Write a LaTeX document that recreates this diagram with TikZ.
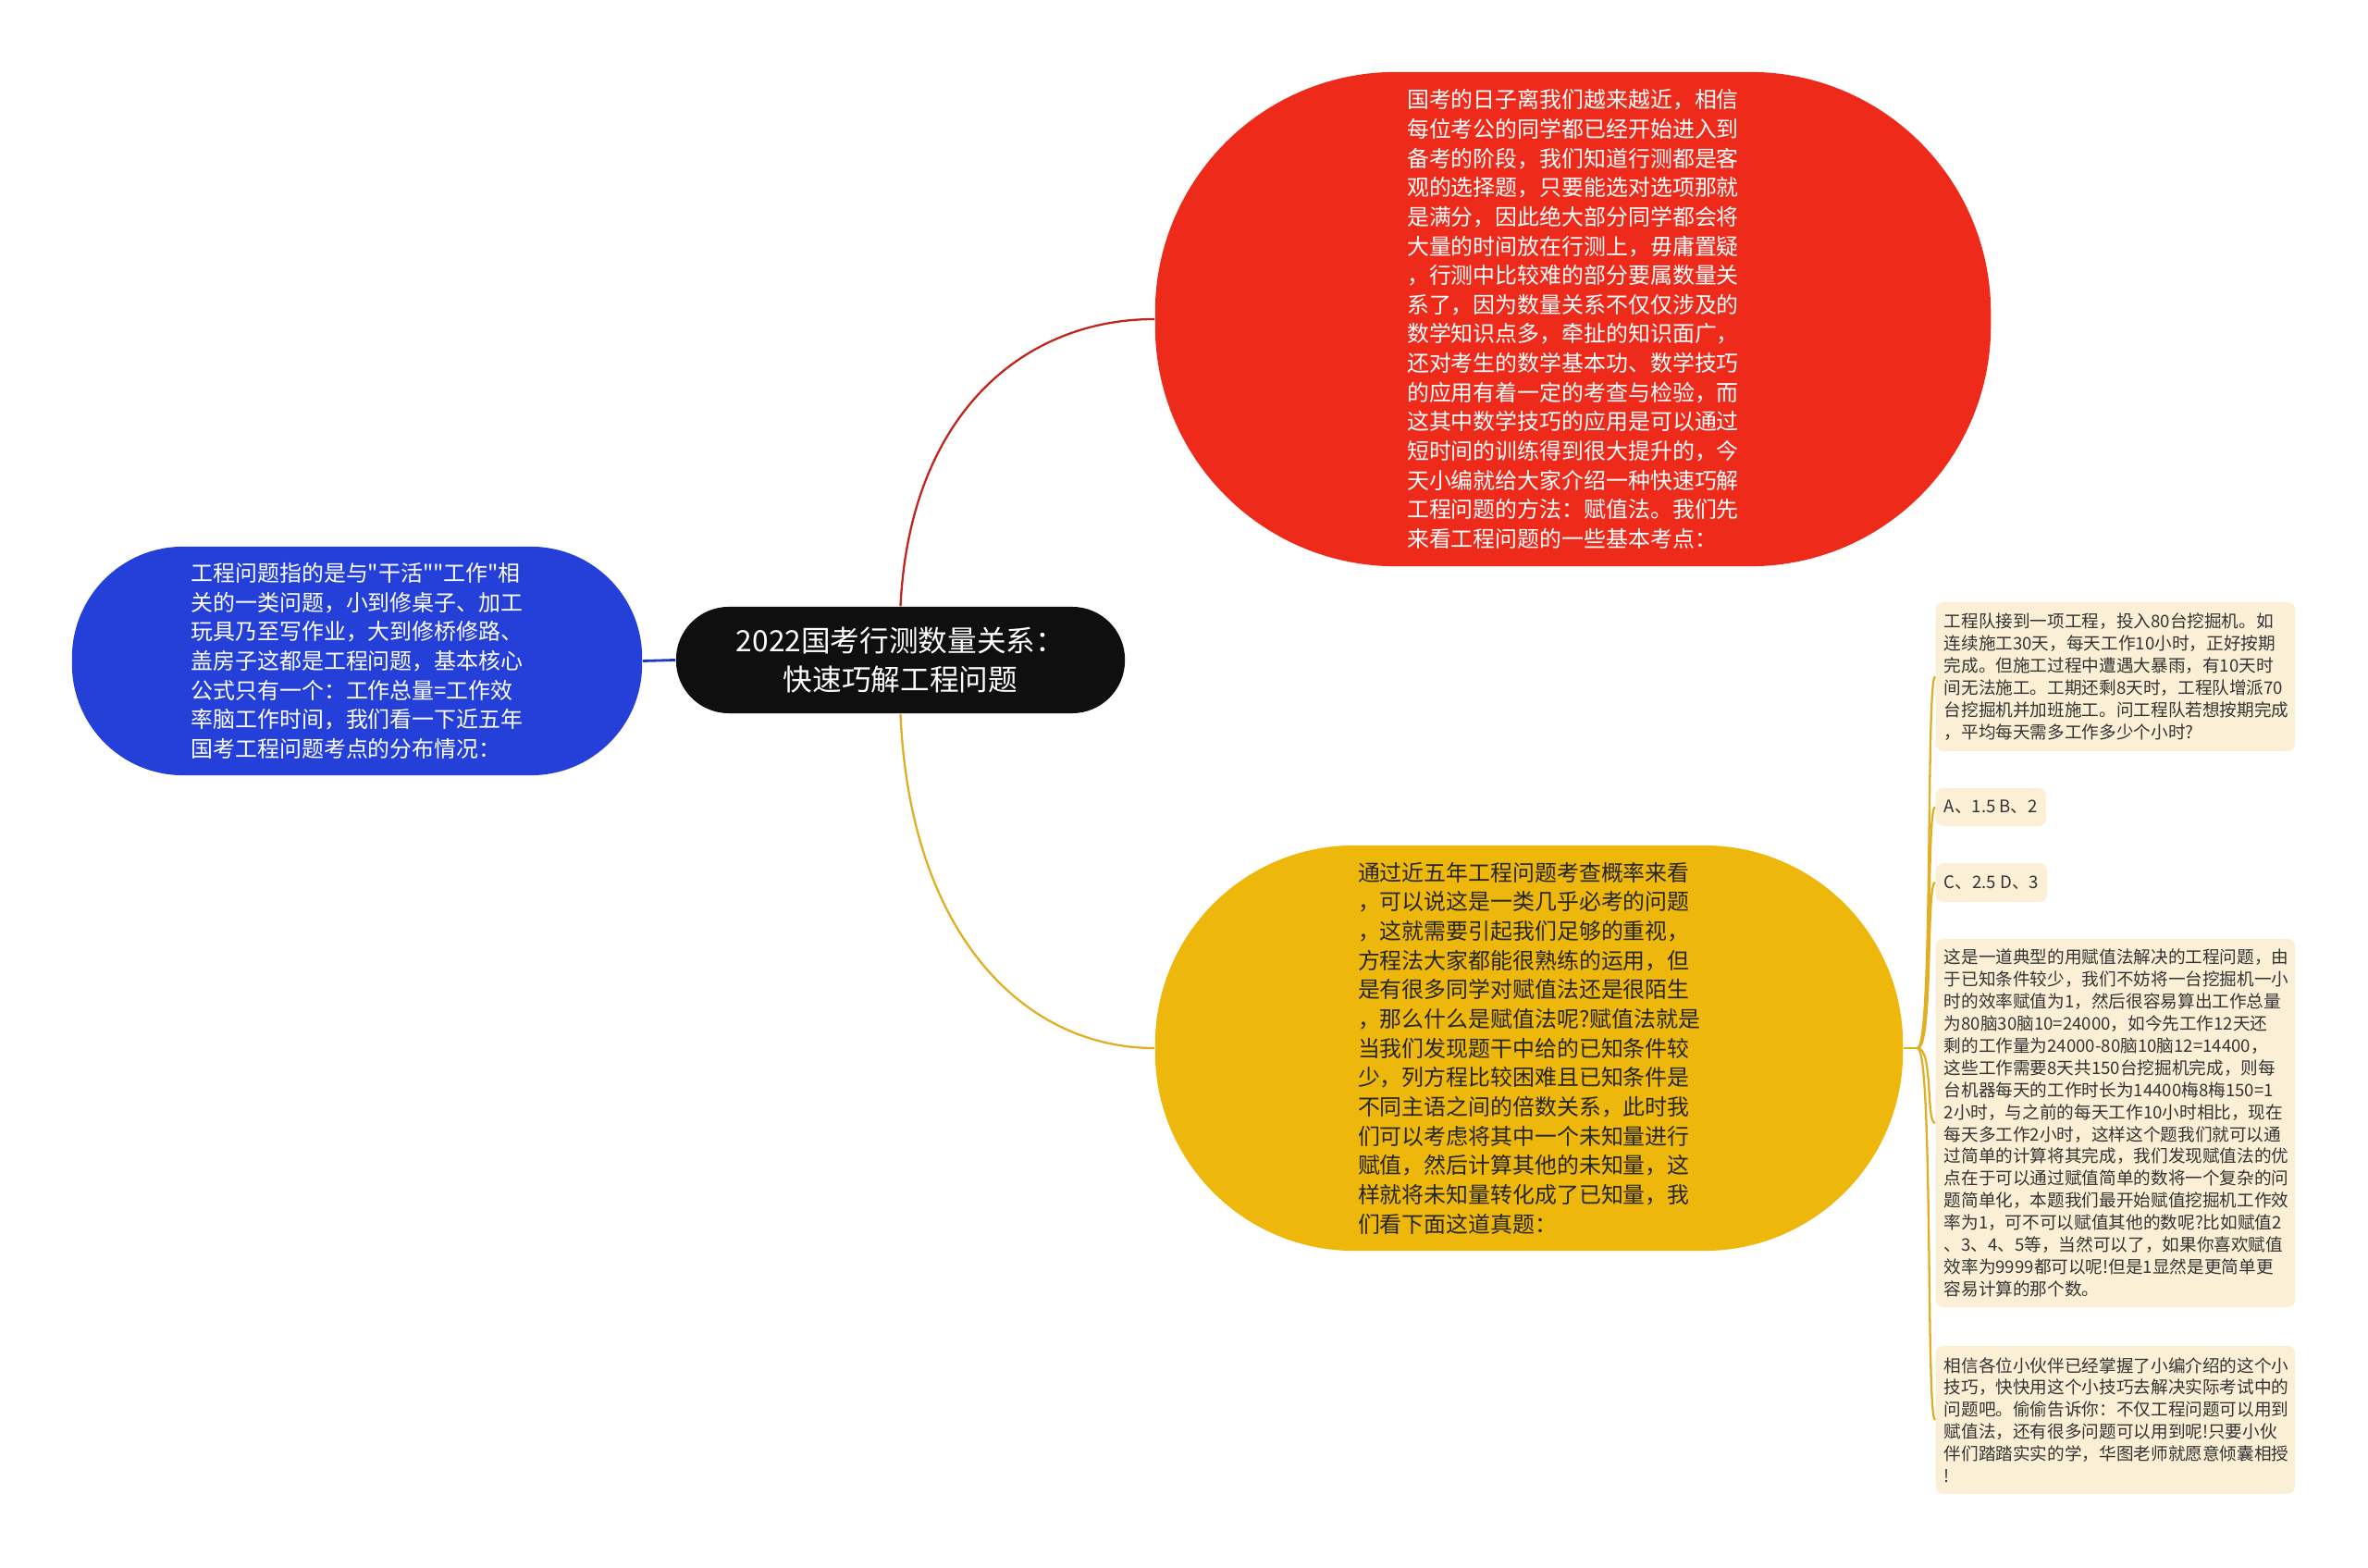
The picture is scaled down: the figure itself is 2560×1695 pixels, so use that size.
\documentclass[tikz,border=0pt]{standalone}
\usepackage{fontspec}
\setmainfont{Noto Sans CJK SC}[Ligatures=TeXReset]
\definecolor{redfill}{HTML}{EE2A1B}
\definecolor{redline}{HTML}{C0261C}
\definecolor{bluefill}{HTML}{2440D9}
\definecolor{blueline}{HTML}{2238C0}
\definecolor{yelfill}{HTML}{EDB80B}
\definecolor{yelline}{HTML}{E1AF24}
\definecolor{cream}{HTML}{FBF0D6}
\definecolor{rootfill}{HTML}{0F0F0F}
\definecolor{darktext}{HTML}{333333}
\begin{document}
\begin{tikzpicture}[x=0.01cm,y=-0.01cm,
  bubble/.style={rectangle, inner sep=0pt, align=left, font=\fontsize{6.8}{9}\selectfont},
  redbub/.style={bubble, fill=redfill, text=white, minimum width=9.03cm, minimum height=5.34cm, rounded corners=2.6cm},
  bluebub/.style={bubble, fill=bluefill, text=white, minimum width=6.16cm, minimum height=2.47cm, rounded corners=1.2cm},
  yelbub/.style={bubble, fill=yelfill, text=black!85, minimum width=8.08cm, minimum height=4.38cm, rounded corners=2.15cm},
  rootbub/.style={rectangle, inner sep=0pt, align=center, fill=rootfill, text=white, minimum width=4.85cm, minimum height=1.15cm, rounded corners=0.57cm, font=\fontsize{9}{11.95}\selectfont},
  leaf/.style={rectangle, fill=cream, text=darktext, rounded corners=0.08cm, inner xsep=0.09cm, inner ysep=0pt, align=left, anchor=west, font=\fontsize{5.3}{6.8}\selectfont},
  bigleaf/.style={leaf, text width=3.70cm},
  conn/.style={line width=0.65pt},
]
\fill[white] (0,0) rectangle (2560,1695);
\useasboundingbox (0,0) rectangle (2560,1695);

% nodes
\node[rootbub] (root) at (973.5,713.5) {2022国考行测数量关系：\\快速巧解工程问题};

\node[redbub] (red) at (1700.5,345) {国考的日子离我们越来越近，相信\\
每位考公的同学都已经开始进入到\\
备考的阶段，我们知道行测都是客\\
观的选择题，只要能选对选项那就\\
是满分，因此绝大部分同学都会将\\
大量的时间放在行测上，毋庸置疑\\
，行测中比较难的部分要属数量关\\
系了，因为数量关系不仅仅涉及的\\
数学知识点多，牵扯的知识面广，\\
还对考生的数学基本功、数学技巧\\
的应用有着一定的考查与检验，而\\
这其中数学技巧的应用是可以通过\\
短时间的训练得到很大提升的，今\\
天小编就给大家介绍一种快速巧解\\
工程问题的方法：赋值法。我们先\\
来看工程问题的一些基本考点：};

\node[bluebub] (blue) at (386,714.5) {工程问题指的是与"干活""工作"相\\
关的一类问题，小到修桌子、加工\\
玩具乃至写作业，大到修桥修路、\\
盖房子这都是工程问题，基本核心\\
公式只有一个：工作总量=工作效\\
率脑工作时间，我们看一下近五年\\
国考工程问题考点的分布情况：};

\node[yelbub] (yel) at (1653,1133) {通过近五年工程问题考查概率来看\\
，可以说这是一类几乎必考的问题\\
，这就需要引起我们足够的重视，\\
方程法大家都能很熟练的运用，但\\
是有很多同学对赋值法还是很陌生\\
，那么什么是赋值法呢?赋值法就是\\
当我们发现题干中给的已知条件较\\
少，列方程比较困难且已知条件是\\
不同主语之间的倍数关系，此时我\\
们可以考虑将其中一个未知量进行\\
赋值，然后计算其他的未知量，这\\
样就将未知量转化成了已知量，我\\
们看下面这道真题：};

\node[bigleaf, minimum height=1.61cm] (q) at (2092,731.5) {工程队接到一项工程，投入80台挖掘机。如\\
连续施工30天，每天工作10小时，正好按期\\
完成。但施工过程中遭遇大暴雨，有10天时\\
间无法施工。工期还剩8天时，工程队增派70\\
台挖掘机并加班施工。问工程队若想按期完成\\
，平均每天需多工作多少个小时?};

\node[leaf, minimum height=0.41cm] (ab) at (2092,872.5) {A、1.5 B、2};
\node[leaf, minimum height=0.42cm] (cd) at (2092,954) {C、2.5 D、3};

\node[bigleaf, minimum height=3.98cm] (sol) at (2092,1214) {这是一道典型的用赋值法解决的工程问题，由\\
于已知条件较少，我们不妨将一台挖掘机一小\\
时的效率赋值为1，然后很容易算出工作总量\\
为80脑30脑10=24000，如今先工作12天还\\
剩的工作量为24000-80脑10脑12=14400，\\
这些工作需要8天共150台挖掘机完成，则每\\
台机器每天的工作时长为14400梅8梅150=1\\
2小时，与之前的每天工作10小时相比，现在\\
每天多工作2小时，这样这个题我们就可以通\\
过简单的计算将其完成，我们发现赋值法的优\\
点在于可以通过赋值简单的数将一个复杂的问\\
题简单化，本题我们最开始赋值挖掘机工作效\\
率为1，可不可以赋值其他的数呢?比如赋值2\\
、3、4、5等，当然可以了，如果你喜欢赋值\\
效率为9999都可以呢!但是1显然是更简单更\\
容易计算的那个数。};

\node[bigleaf, minimum height=1.60cm] (end) at (2092,1535) {相信各位小伙伴已经掌握了小编介绍的这个小\\
技巧，快快用这个小技巧去解决实际考试中的\\
问题吧。偷偷告诉你：不仅工程问题可以用到\\
赋值法，还有很多问题可以用到呢!只要小伙\\
伴们踏踏实实的学，华图老师就愿意倾囊相授\\
!};

% connectors
\draw[conn, redline] (root.north) .. controls +(10,-207) and +(-142,0) .. (red.west);
\draw[conn, yelline] (root.south) .. controls +(10,237) and +(-142,0) .. (yel.west);
\draw[conn, blueline, line width=0.8pt] (blue.east) -- (root.west);

\coordinate (j) at (2073,1133);
\draw[conn, yelline] (yel.east) -- (j);
\foreach \b in {q,ab,cd,sol,end}{
  \draw[conn, yelline] (j) .. controls +(17,0) and +(-10,0) .. (\b.west);
}
\end{tikzpicture}
\end{document}
